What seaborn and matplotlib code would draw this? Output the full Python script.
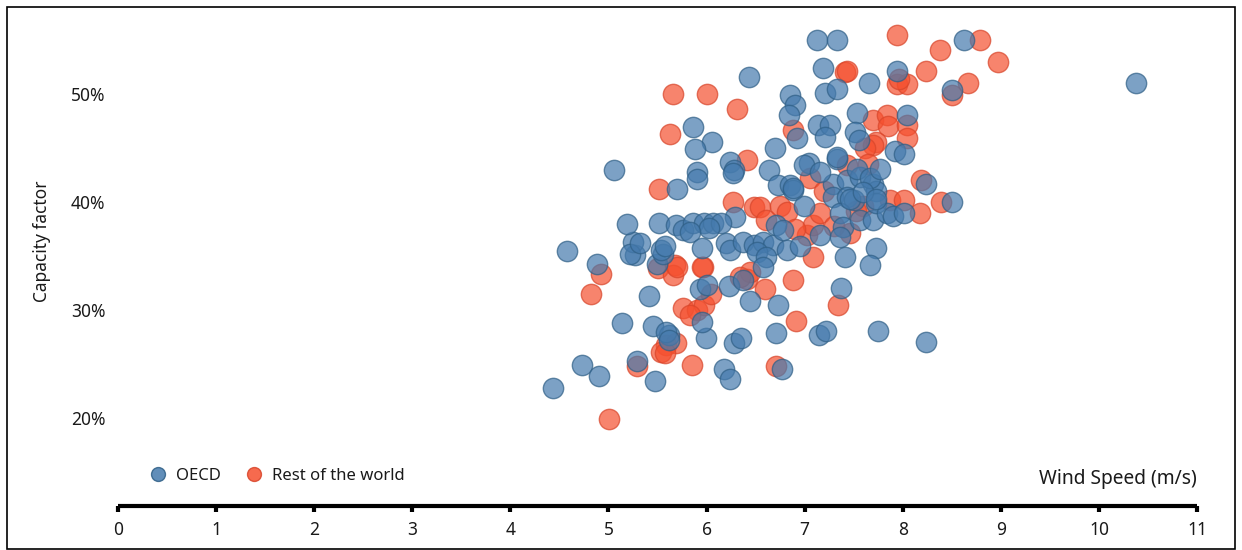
import numpy as np
import pandas as pd
import matplotlib
matplotlib.use("Agg")
import matplotlib.pyplot as plt
import seaborn as sns
from matplotlib.lines import Line2D
from matplotlib.patches import Rectangle

# ---------------- data (wind speed m/s, capacity factor %) ----------------
oecd_speed = [4.43, 4.73, 4.90, 4.58, 4.88, 5.06, 5.14, 5.41, 5.45, 5.29,
              5.47, 6.18, 6.24, 6.77, 6.28, 6.35, 5.99, 5.62, 5.59, 5.62,
              5.95, 5.93, 6.00, 6.23, 5.49, 5.56, 5.27, 5.25, 5.19, 5.22,
              6.37, 6.44, 6.73, 6.43, 5.86, 6.06, 5.88, 6.24, 6.28, 5.90,
              5.90, 6.64, 6.70, 5.70, 6.73, 7.13, 7.33, 8.62, 7.19, 7.66,
              7.94, 8.50, 7.21, 7.33, 6.85, 6.90, 6.84, 6.92, 7.14, 7.26,
              7.21, 7.53, 7.51, 7.55, 8.04, 7.92, 8.01, 7.33, 7.04, 8.24,
              8.50, 10.38, 6.27, 6.85, 6.88, 6.29, 5.52, 5.69, 5.76, 5.86,
              5.97, 6.07, 6.15, 6.03, 5.83, 5.54, 5.58, 5.95, 6.20, 6.24,
              6.37, 6.48, 6.58, 6.68, 6.51, 6.61, 6.58, 6.71, 6.78, 6.99,
              6.82, 6.95, 7.16, 7.29, 7.43, 7.56, 7.70, 7.73, 7.29, 7.43,
              7.50, 7.36, 7.39, 7.36, 7.56, 7.70, 7.73, 7.84, 7.90, 8.01,
              7.73, 7.67, 7.41, 7.37, 7.15, 7.22, 7.75, 8.24, 6.99, 7.16,
              7.33, 7.53, 7.67, 7.77, 7.46, 7.60, 7.73, 6.88, 5.32, 6.71]
oecd_cf = [22.8, 24.9, 23.9, 35.5, 34.3, 43.0, 28.8, 31.3, 28.5, 25.3,
           23.4, 24.5, 23.6, 24.5, 26.9, 27.4, 27.4, 27.7, 28.0, 27.2,
           28.9, 31.9, 32.3, 32.2, 34.3, 35.2, 35.1, 36.3, 38.0, 35.2,
           32.8, 30.8, 30.5, 51.6, 46.9, 45.6, 44.9, 43.7, 43.0, 42.8,
           42.1, 43.0, 45.0, 41.2, 41.6, 55.0, 55.0, 55.0, 52.4, 51.0,
           52.1, 50.4, 50.1, 50.5, 49.9, 49.0, 48.1, 45.9, 47.1, 47.1,
           46.0, 48.2, 46.5, 45.7, 48.1, 44.7, 44.4, 44.0, 43.6, 41.7,
           40.0, 51.0, 42.7, 41.6, 41.1, 38.6, 38.1, 37.9, 37.4, 38.1,
           38.1, 38.1, 38.1, 37.6, 37.2, 35.6, 35.9, 35.7, 36.2, 35.6,
           36.3, 36.0, 36.3, 36.0, 35.4, 34.9, 34.0, 37.9, 37.4, 39.6,
           35.6, 35.9, 36.9, 41.7, 42.0, 42.3, 41.7, 41.0, 40.5, 40.5,
           40.2, 39.0, 37.7, 36.8, 38.3, 38.3, 39.9, 39.0, 38.7, 39.0,
           35.7, 34.2, 34.9, 32.0, 27.7, 28.1, 28.1, 27.0, 43.4, 42.8,
           44.2, 43.1, 42.2, 43.1, 40.3, 40.9, 40.3, 41.3, 36.2, 27.9]

row_speed = [4.92, 4.82, 5.01, 5.29, 5.85, 6.71, 5.59, 5.54, 5.69, 5.58,
             5.76, 5.90, 5.97, 5.83, 6.05, 5.96, 5.51, 5.68, 5.66, 6.41,
             6.60, 7.94, 8.79, 8.38, 8.97, 7.41, 7.43, 7.94, 8.04, 7.96,
             8.24, 8.67, 8.50, 6.88, 7.70, 7.84, 7.85, 7.73, 8.04, 8.04,
             7.70, 8.19, 8.39, 8.18, 5.66, 6.00, 6.31, 5.63, 6.41, 5.52,
             6.27, 6.48, 6.54, 6.61, 6.75, 6.82, 7.09, 6.88, 7.02, 7.09,
             7.16, 7.46, 7.60, 7.87, 8.01, 7.34, 6.91, 6.44, 5.70, 5.95,
             6.34, 7.43, 7.05, 7.62, 7.30, 7.20, 6.90, 7.52, 7.65]
row_cf = [33.3, 31.5, 19.9, 24.8, 24.9, 24.8, 26.8, 26.1, 26.9, 26.0,
          30.2, 30.0, 30.5, 29.5, 31.5, 34.0, 33.9, 34.2, 33.2, 32.9,
          31.9, 55.5, 55.0, 54.1, 53.0, 52.0, 52.1, 50.9, 50.9, 51.4,
          52.1, 51.0, 49.9, 46.7, 47.6, 48.1, 47.0, 45.6, 47.1, 45.9,
          45.3, 42.0, 40.0, 39.0, 50.0, 50.0, 48.6, 46.3, 43.9, 41.2,
          40.0, 39.5, 39.5, 38.3, 39.6, 39.1, 34.9, 32.8, 36.9, 37.9,
          39.0, 37.1, 39.6, 40.2, 40.2, 30.5, 29.0, 33.5, 34.0, 34.0,
          33.1, 43.4, 42.2, 45.0, 37.8, 41.0, 37.5, 39.2, 43.5]

group_names = ["OECD", "Rest of the world"]
x_ticks = list(range(0, 12))
y_ticks = [20, 30, 40, 50]

df = pd.concat([
    pd.DataFrame({"speed": oecd_speed, "cf": oecd_cf, "group": group_names[0]}),
    pd.DataFrame({"speed": row_speed, "cf": row_cf, "group": group_names[1]}),
], ignore_index=True)

# ---------------- style ----------------
sns.set_theme(style="white")
plt.rcParams["font.family"] = ["Noto Sans", "DejaVu Sans"]
text_color = "#1a1a1a"
fs = 12.5

face = {"OECD": "#457aad", "Rest of the world": "#f5502f"}
edge = {"OECD": "#2f5f86", "Rest of the world": "#d8452a"}

fig = plt.figure(figsize=(12.42, 5.5), dpi=100)
ax = fig.add_axes([118 / 1242, 44 / 550, 1079 / 1242, 487.6 / 550])

for g in [group_names[1], group_names[0]]:
    sns.scatterplot(data=df[df["group"] == g], x="speed", y="cf",
                    color=face[g], edgecolor=edge[g], linewidth=1.0,
                    s=215, alpha=0.7, ax=ax, legend=False, zorder=3)

ax.set_xlim(0, 11)
ax.set_ylim(11.85, 57)
ax.set_xticks(x_ticks)
ax.set_xticklabels([str(t) for t in x_ticks], fontsize=fs, color=text_color)
ax.set_yticks(y_ticks)
ax.set_yticklabels([f"{t}%" for t in y_ticks], fontsize=fs, color=text_color)

for s in ["top", "right", "left"]:
    ax.spines[s].set_visible(False)
ax.spines["bottom"].set_linewidth(3)
ax.spines["bottom"].set_color("black")
ax.spines["bottom"].set_capstyle("butt")
ax.tick_params(axis="x", direction="out", length=4, width=3, color="black",
               pad=7, bottom=True)
ax.tick_params(axis="y", length=0, pad=9, left=False)

ax.set_xlabel("")
ax.set_ylabel("Capacity factor", fontsize=fs, color=text_color)
ax.yaxis.set_label_coords(-0.062, 0.543)
ax.text(1.0, 0.055, "Wind Speed (m/s)", transform=ax.transAxes,
        ha="right", va="center", fontsize=13.8, color=text_color)

handles = [Line2D([0], [0], marker="o", linestyle="", markersize=10,
                  markerfacecolor=face[g], markeredgecolor=edge[g],
                  markeredgewidth=1.0, alpha=0.85) for g in group_names]
ax.legend(handles, group_names, loc="center left",
          bbox_to_anchor=(0.029, 0.062), ncol=2, frameon=False,
          handlelength=1.0, handletextpad=0.62, columnspacing=1.45,
          borderpad=0, borderaxespad=0, fontsize=12.0,
          labelcolor=text_color)

fig.patches.append(Rectangle((7 / 1242, 1.5 / 550), 1228 / 1242, 542 / 550,
                             transform=fig.transFigure, fill=False,
                             edgecolor="black", linewidth=1.2, zorder=10))

fig.savefig("out.png", dpi=100)
